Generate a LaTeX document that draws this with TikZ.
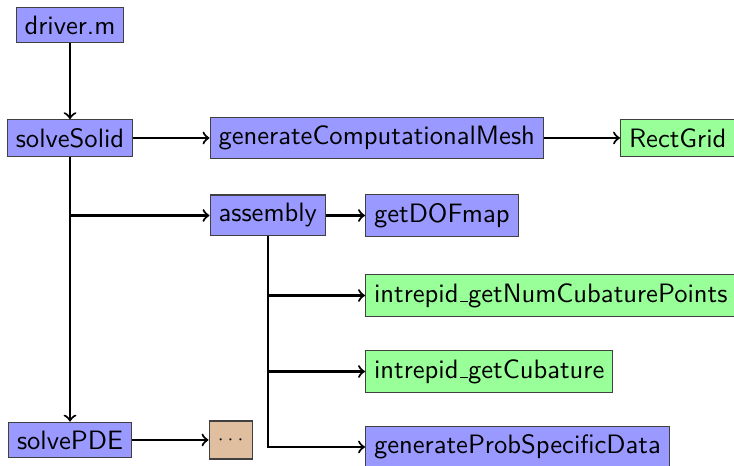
\documentclass[tikz,border=0pt]{standalone}
\usepackage{tikz}
\usetikzlibrary{positioning}

\newcommand\usc{\leavevmode\kern.06em\vbox{\hrule width.3em}}

\tikzset{
  fn/.style={draw=black!75, fill=blue!40, font=\sffamily, inner sep=.32em},
  lib/.style={fn, fill=green!40},
  etc/.style={fn, fill=brown!50, minimum width=15.3pt, minimum height=14.3pt},
  call/.style={->, thick},
}

\begin{document}
\begin{tikzpicture}[x=0.376pt, y=-0.376pt]
  \useasboundingbox (0,0) rectangle (734,466);
  \clip (0,0) rectangle (734,466);
  \fill[white] (0,0) rectangle (734,466);

  % main program
  \node[fn] (driver) at (70,25) {driver.m};
  \node[fn] (solveSolid) at (70,138) {solveSolid};
  \node[fn] (solvePDE) at (70,440) {solvePDE};

  % called by solveSolid
  \node[fn, anchor=west] (mesh) at (209.5,138) {generateComputationalMesh};
  \node[lib, anchor=west] (rectGrid) at (620,138) {RectGrid};
  \node[fn, anchor=west] (assembly) at (209.5,215.5) {assembly};
  \node[etc, anchor=west] (more) at (208.5,440) {\scriptsize$\cdots$};

  % called by assembly
  \node[fn, anchor=west] (dofMap) at (365,215.5) {getDOFmap};
  \node[lib, anchor=west] (numCub) at (365,295.5) {intrepid\usc getNumCubaturePoints};
  \node[lib, anchor=west] (getCub) at (365,371.5) {intrepid\usc getCubature};
  \node[fn, anchor=west] (probData) at (365,447) {generateProbSpecificData};

  \coordinate (ssBranch) at (solveSolid.south |- assembly.west);

  \draw[call] (driver) -- (solveSolid);
  \draw[call] (solveSolid) -- (mesh);
  \draw[call] (mesh) -- (rectGrid);
  \draw[call] (solveSolid) -- (solvePDE);
  \draw[call] (ssBranch) -- (assembly);
  \draw[call] (solvePDE) -- (more);

  \draw[call] (assembly) -- (dofMap);
  \draw[call] (assembly.south) |- (probData.west);
  \draw[call] (assembly.south |- numCub.west) -- (numCub.west);
  \draw[call] (assembly.south |- getCub.west) -- (getCub.west);
\end{tikzpicture}
\end{document}
